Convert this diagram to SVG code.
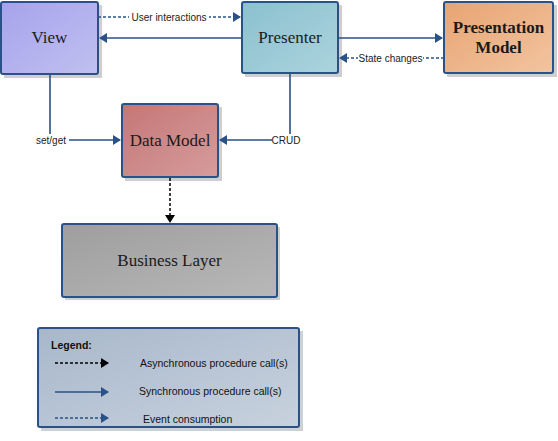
<svg xmlns="http://www.w3.org/2000/svg" width="558" height="441" viewBox="0 0 558 441">
<defs>
<linearGradient id="gView" x1="0" y1="0" x2="1" y2="1"><stop offset="0" stop-color="#a6a3ec"/><stop offset="1" stop-color="#c0c0f0"/></linearGradient>
<linearGradient id="gPres" x1="0" y1="0" x2="1" y2="1"><stop offset="0" stop-color="#8bc1cf"/><stop offset="1" stop-color="#abd3dd"/></linearGradient>
<linearGradient id="gPM" x1="0" y1="0" x2="1" y2="1"><stop offset="0" stop-color="#e8a472"/><stop offset="1" stop-color="#f2c4a0"/></linearGradient>
<linearGradient id="gDM" x1="0" y1="0" x2="1" y2="1"><stop offset="0" stop-color="#c57676"/><stop offset="1" stop-color="#d69c9c"/></linearGradient>
<linearGradient id="gBL" x1="0" y1="0" x2="1" y2="1"><stop offset="0" stop-color="#9e9e9e"/><stop offset="1" stop-color="#b8b8b8"/></linearGradient>
<linearGradient id="gLeg" x1="0" y1="0" x2="1" y2="1"><stop offset="0" stop-color="#a8b7cb"/><stop offset="1" stop-color="#c8d2de"/></linearGradient>
<marker id="aBlue" markerWidth="8" markerHeight="10" refX="7" refY="5" orient="auto" markerUnits="userSpaceOnUse"><path d="M0,0 L8,5 L0,10 Z" fill="#2a5288"/></marker>
<marker id="aBlack" markerWidth="8" markerHeight="10" refX="7" refY="5" orient="auto" markerUnits="userSpaceOnUse"><path d="M0,0 L8,5 L0,10 Z" fill="#000"/></marker>
</defs>
<style>
.box{stroke:#2a5288;stroke-width:2}
.sh{fill:#cfcfcf}
.nt{font-family:"Liberation Serif","DejaVu Serif",serif;font-size:17px;fill:#1a1a1a;text-anchor:middle}
.ntb{font-family:"Liberation Serif","DejaVu Serif",serif;font-size:17px;font-weight:bold;fill:#1a1a1a;text-anchor:middle}
.sol{stroke:#2a5288;stroke-width:1.6;fill:none}
.dsh{stroke:#2a5288;stroke-width:1.3;fill:none;stroke-dasharray:3,2}
.blk{stroke:#000;stroke-width:1.5;fill:none;stroke-dasharray:3,2}
.lb{font-family:"Liberation Sans","DejaVu Sans",sans-serif;font-size:10px;fill:#222}
.lg{font-family:"Liberation Sans","DejaVu Sans",sans-serif;font-size:10.5px;fill:#111}
</style>
<g id="view"><rect class="sh" x="4" y="5" width="98" height="73"/><rect class="box" x="1" y="2" width="97" height="72" rx="2" fill="url(#gView)"/><text class="nt" x="49.5" y="43">View</text></g>
<g id="presenter"><rect class="sh" x="245" y="5" width="97" height="72"/><rect class="box" x="242" y="2" width="96" height="71" rx="2" fill="url(#gPres)"/><text class="nt" x="290" y="43">Presenter</text></g>
<g id="presentation-model"><rect class="sh" x="447" y="5" width="110" height="72"/><rect class="box" x="444" y="2" width="109" height="71" rx="2" fill="url(#gPM)"/><text class="ntb" x="498.5" y="33">Presentation</text><text class="ntb" x="498.5" y="53">Model</text></g>
<g id="data-model"><rect class="sh" x="125" y="107" width="97" height="74"/><rect class="box" x="122" y="104" width="96" height="73" rx="2" fill="url(#gDM)"/><text class="nt" x="170" y="146">Data Model</text></g>
<g id="business-layer"><rect class="sh" x="65" y="227" width="215" height="73"/><rect class="box" x="62" y="224" width="215" height="73" rx="2" fill="url(#gBL)"/><text class="nt" x="169.5" y="266">Business Layer</text></g>
<g id="connectors">
<line class="dsh" x1="98" y1="17" x2="240" y2="17" marker-end="url(#aBlue)"/>
<rect x="129" y="11" width="80" height="12" fill="#fff"/>
<text class="lb" x="169" y="20.5" text-anchor="middle">User interactions</text>
<line class="sol" x1="242" y1="38" x2="100" y2="38" marker-end="url(#aBlue)"/>
<line class="sol" x1="338" y1="38" x2="442" y2="38" marker-end="url(#aBlue)"/>
<line class="dsh" x1="444" y1="58" x2="340" y2="58" marker-end="url(#aBlue)"/>
<rect x="358" y="52" width="65" height="12" fill="#fff"/>
<text class="lb" x="390.5" y="61.5" text-anchor="middle">State changes</text>
<polyline class="sol" points="50,74 50,140 120,140" marker-end="url(#aBlue)"/>
<rect x="33" y="134" width="36" height="12" fill="#fff"/>
<text class="lb" x="51" y="143.5" text-anchor="middle">set/get</text>
<polyline class="sol" points="290,73 290,140 220,140" marker-end="url(#aBlue)"/>
<rect x="272" y="134" width="28" height="12" fill="#fff"/>
<text class="lb" x="286" y="143.5" text-anchor="middle">CRUD</text>
<line class="blk" x1="170" y1="178" x2="170" y2="222" marker-end="url(#aBlack)"/>
</g>
<g id="legend">
<rect x="41" y="331" width="262" height="100" fill="#d0d0d0"/>
<rect class="box" x="38" y="328" width="261" height="99" rx="2" fill="url(#gLeg)"/>
<text class="lg" x="51" y="349" font-weight="bold">Legend:</text>
<line class="blk" x1="55" y1="363" x2="108" y2="363" stroke-width="1.6" marker-end="url(#aBlack)"/>
<line class="sol" x1="55" y1="392" x2="108" y2="392" marker-end="url(#aBlue)"/>
<line class="dsh" x1="55" y1="418" x2="108" y2="418" marker-end="url(#aBlue)"/>
<text class="lg" x="140" y="367">Asynchronous procedure call(s)</text>
<text class="lg" x="139" y="395">Synchronous procedure call(s)</text>
<text class="lg" x="143" y="423">Event consumption</text>
</g>
</svg>
